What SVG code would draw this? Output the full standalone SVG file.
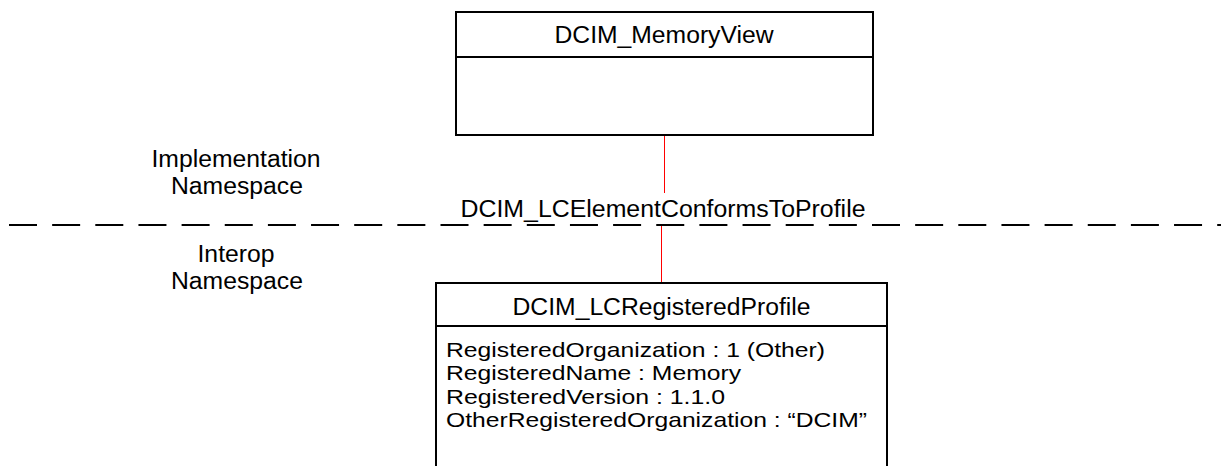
<svg xmlns="http://www.w3.org/2000/svg" width="1221" height="466" viewBox="0 0 1221 466">
<style>
text{font-family:"Liberation Sans",Arial,sans-serif;font-size:23px;fill:#000}
.attr{font-size:21px}
.box{fill:#fff;stroke:#000;stroke-width:2}
.div{stroke:#000;stroke-width:2}
.c{text-anchor:middle}
.rel{stroke:#ff0000;stroke-width:1;fill:none}
</style>
<rect width="1221" height="466" fill="#fff"/>
<g id="boundary">
<line x1="9" y1="225" x2="1221" y2="225" stroke="#000" stroke-width="2" stroke-dasharray="28 15.15"/>
<text class="c" x="236" y="167" textLength="169" lengthAdjust="spacingAndGlyphs">Implementation</text>
<text class="c" x="237" y="194" textLength="132" lengthAdjust="spacingAndGlyphs">Namespace</text>
<text class="c" x="236" y="262" textLength="77" lengthAdjust="spacingAndGlyphs">Interop</text>
<text class="c" x="237" y="289" textLength="132" lengthAdjust="spacingAndGlyphs">Namespace</text>
</g>
<g id="connectors">
<line class="rel" x1="664.5" y1="135" x2="664.5" y2="193"/>
<line class="rel" x1="661.5" y1="226" x2="661.5" y2="283"/>
<text class="c" x="663" y="217" textLength="405" lengthAdjust="spacingAndGlyphs">DCIM_LCElementConformsToProfile</text>
</g>
<g id="DCIM_MemoryView">
<rect class="box" x="456" y="12" width="417" height="123"/>
<line class="div" x1="456" y1="57" x2="873" y2="57"/>
<text class="c" x="664" y="43" textLength="219" lengthAdjust="spacingAndGlyphs">DCIM_MemoryView</text>
</g>
<g id="DCIM_LCRegisteredProfile">
<rect class="box" x="436" y="283" width="451" height="200"/>
<line class="div" x1="436" y1="326" x2="887" y2="326"/>
<text class="c" x="661.5" y="315" textLength="298" lengthAdjust="spacingAndGlyphs">DCIM_LCRegisteredProfile</text>
<text class="attr" x="446" y="357" textLength="379" lengthAdjust="spacingAndGlyphs">RegisteredOrganization : 1 (Other)</text>
<text class="attr" x="446" y="380.3" textLength="295" lengthAdjust="spacingAndGlyphs">RegisteredName : Memory</text>
<text class="attr" x="446" y="403.6" textLength="279" lengthAdjust="spacingAndGlyphs">RegisteredVersion : 1.1.0</text>
<text class="attr" x="446" y="427" textLength="421" lengthAdjust="spacingAndGlyphs">OtherRegisteredOrganization : “DCIM”</text>
</g>
</svg>
